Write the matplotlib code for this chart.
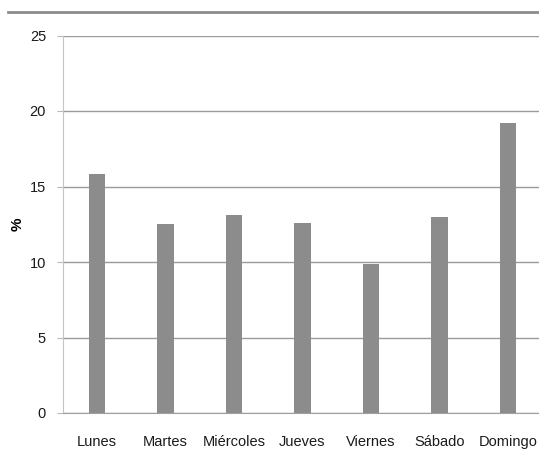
import matplotlib.pyplot as plt
from matplotlib.lines import Line2D

days = ["Lunes", "Martes", "Miércoles", "Jueves", "Viernes", "Sábado", "Domingo"]
share = [15.8, 12.5, 13.1, 12.6, 9.85, 13.0, 19.2]
y_ticks = [0, 5, 10, 15, 20, 25]

FONT = ["Liberation Sans", "DejaVu Sans"]

W, H = 539, 457
fig = plt.figure(figsize=(W / 100, H / 100), dpi=100)
fig.patch.set_facecolor("white")

# axes box in pixel coords: left 62.7, right 539, top 35.5, bottom 413
left, right, top, bottom = 62.7, 539, 35.5, 413
ax = fig.add_axes([left / W, 1 - bottom / H, (right - left) / W, (bottom - top) / H])

step = 68.5
x_max = (right - left) / step - 0.5
ax.set_xlim(-0.5, x_max)
ax.set_ylim(0, 25)

xs = list(range(len(days)))
ax.bar(xs, share, width=0.245, color="#8c8c8c", zorder=3)

ax.set_yticks(y_ticks)
ax.set_yticklabels([str(t) for t in y_ticks])
ax.yaxis.grid(True, color="#9a9a9a", lw=1.0, zorder=0)
ax.set_axisbelow(True)
ax.tick_params(axis="y", length=4, color="#b8b8b8", pad=8, labelsize=10.5,
               labelcolor="#1a1a1a")
ax.set_xticks(xs)
ax.set_xticklabels(days)
ax.tick_params(axis="x", length=0, pad=16, labelsize=10.5, labelcolor="#1a1a1a")
for lab in ax.get_xticklabels() + ax.get_yticklabels():
    lab.set_family(FONT)

for s in ["top", "right"]:
    ax.spines[s].set_visible(False)
ax.spines["left"].set_color("#c4c4c4")
ax.spines["bottom"].set_color("#a0a0a0")

ax.set_ylabel("%", fontsize=11, fontweight="bold", family=FONT)
ax.yaxis.set_label_coords((18 - left) / (right - left), 0.5)
ax.yaxis.label.set_verticalalignment("center")

# rule across the top of the figure
fig.add_artist(Line2D([8 / W, 1], [1 - 12 / H, 1 - 12 / H], transform=fig.transFigure,
                      color="#8c8c8c", lw=2))

fig.savefig("out.png", dpi=100, facecolor="white")
